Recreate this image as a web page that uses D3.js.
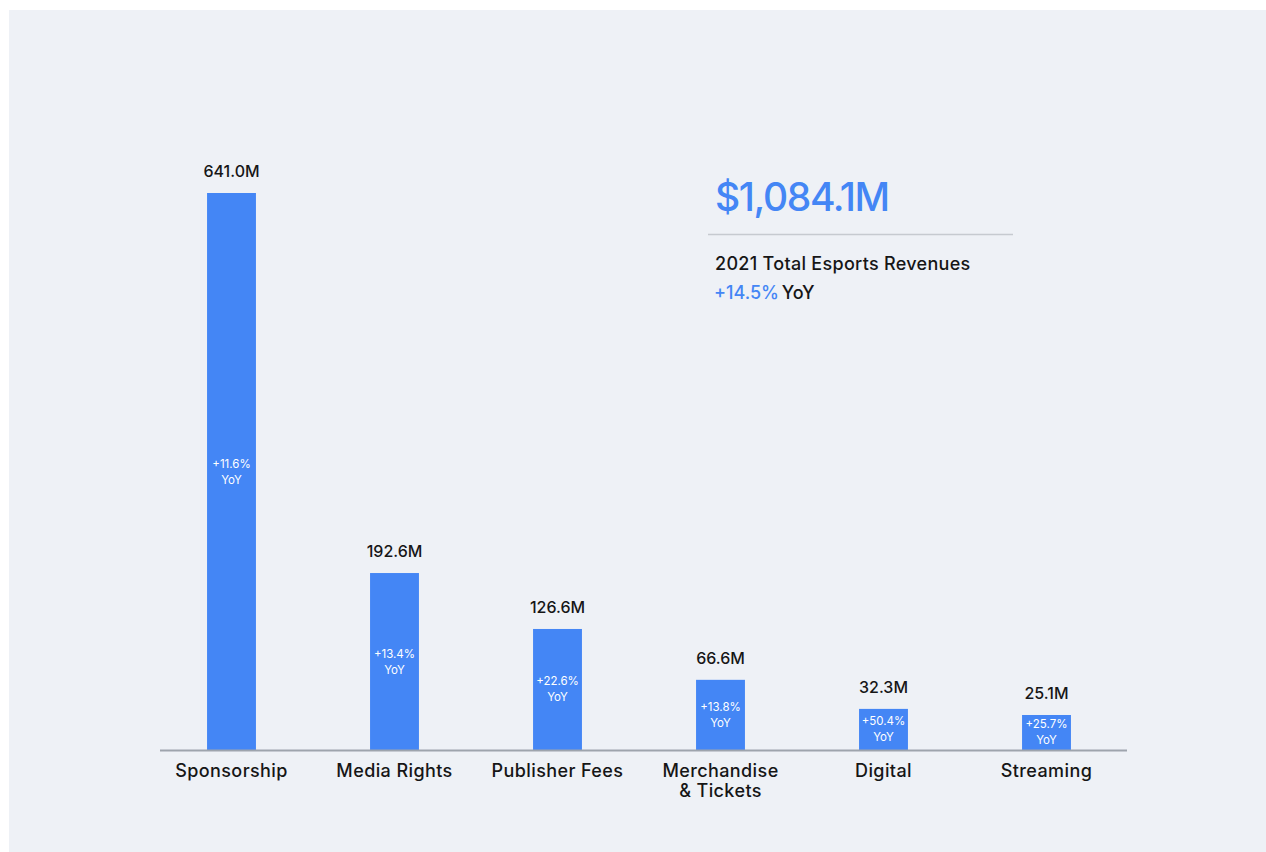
<!DOCTYPE html>
<html>
<head>
<meta charset="utf-8">
<script src="https://cdn.jsdelivr.net/npm/d3@7"></script>
<style>
  html, body { margin: 0; padding: 0; background: #ffffff; }
  svg { display: block; font-family: Inter, "Noto Sans", sans-serif; }
</style>
</head>
<body>
<svg id="chart" width="1266" height="852"></svg>
<script>
const categories = ["Sponsorship", "Media Rights", "Publisher Fees", "Merchandise\n& Tickets", "Digital", "Streaming"];
const revenues = [641.0, 192.6, 126.6, 66.6, 32.3, 25.1];
const yoyGrowth = ["+11.6%", "+13.4%", "+22.6%", "+13.8%", "+50.4%", "+25.7%"];
const totalRevenue = "$1,084.1M";
const totalLabel = "2021 Total Esports Revenues";
const totalGrowth = "+14.5%";

const blue = "#4486f5";
const ink = "#161616";
const svg = d3.select("#chart");

svg.append("rect").attr("x", 9).attr("y", 10).attr("width", 1257).attr("height", 842).attr("fill", "#eef1f6");

const x = d3.scaleBand().domain(categories).range([150, 1128]).paddingInner(0.7).paddingOuter(0.35);
const y = d3.scaleLinear().domain([-16.2, 641]).range([750, 193]);
const y0 = y(-16.2);

const data = categories.map((c, i) => ({c, v: revenues[i], g: yoyGrowth[i]}));

svg.append("g").selectAll("rect").data(data).join("rect")
  .attr("x", d => x(d.c)).attr("y", d => y(d.v))
  .attr("width", x.bandwidth()).attr("height", d => y0 - y(d.v))
  .attr("fill", blue);

// axis baseline
svg.append("line").attr("x1", 160).attr("x2", 1127).attr("y1", y0 + 0.5).attr("y2", y0 + 0.5)
  .attr("stroke", "#9ea4ad").attr("stroke-width", 2);

// value labels
svg.append("g").selectAll("text").data(data).join("text")
  .attr("x", d => x(d.c) + x.bandwidth() / 2).attr("y", d => y(d.v) - 16)
  .attr("text-anchor", "middle").attr("font-size", 16).attr("font-weight", 500).attr("fill", ink)
  .text(d => d.v.toFixed(1) + "M");

// YoY labels inside bars
const yoy = svg.append("g").selectAll("text").data(data).join("text")
  .attr("text-anchor", "middle").attr("font-size", 11.5).attr("fill", "#ffffff")
  .attr("transform", d => `translate(${x(d.c) + x.bandwidth() / 2},${(y(d.v) + y0) / 2})`);
yoy.append("tspan").attr("x", 0).attr("y", -4).text(d => d.g);
yoy.append("tspan").attr("x", 0).attr("y", 12).text("YoY");

// category labels
const cat = svg.append("g").selectAll("text").data(data).join("text")
  .attr("text-anchor", "middle").attr("font-size", 18).attr("font-weight", 500)
  .attr("letter-spacing", 0.4).attr("fill", ink)
  .attr("transform", d => `translate(${x(d.c) + x.bandwidth() / 2},${y0 + 27})`);
cat.selectAll("tspan").data(d => d.c.split("\n")).join("tspan")
  .attr("x", 0).attr("y", (d, i) => i * 20).text(d => d);

// summary block
svg.append("text").attr("x", 715).attr("y", 211).attr("font-size", 39).attr("fill", blue)
  .attr("font-weight", 500).attr("letter-spacing", -1.4).text(totalRevenue);
svg.append("line").attr("x1", 708).attr("x2", 1013).attr("y1", 234.5).attr("y2", 234.5)
  .attr("stroke", "#c6cad0").attr("stroke-width", 1.5);
svg.append("text").attr("x", 715).attr("y", 270).attr("font-size", 18).attr("font-weight", 500)
  .attr("letter-spacing", 0.3).attr("fill", ink).text(totalLabel);
const g2 = svg.append("text").attr("x", 714).attr("y", 299).attr("font-size", 18).attr("font-weight", 500);
g2.append("tspan").attr("fill", blue).text(totalGrowth);
g2.append("tspan").attr("fill", ink).attr("dx", -2).text(" YoY");
</script>
</body>
</html>
